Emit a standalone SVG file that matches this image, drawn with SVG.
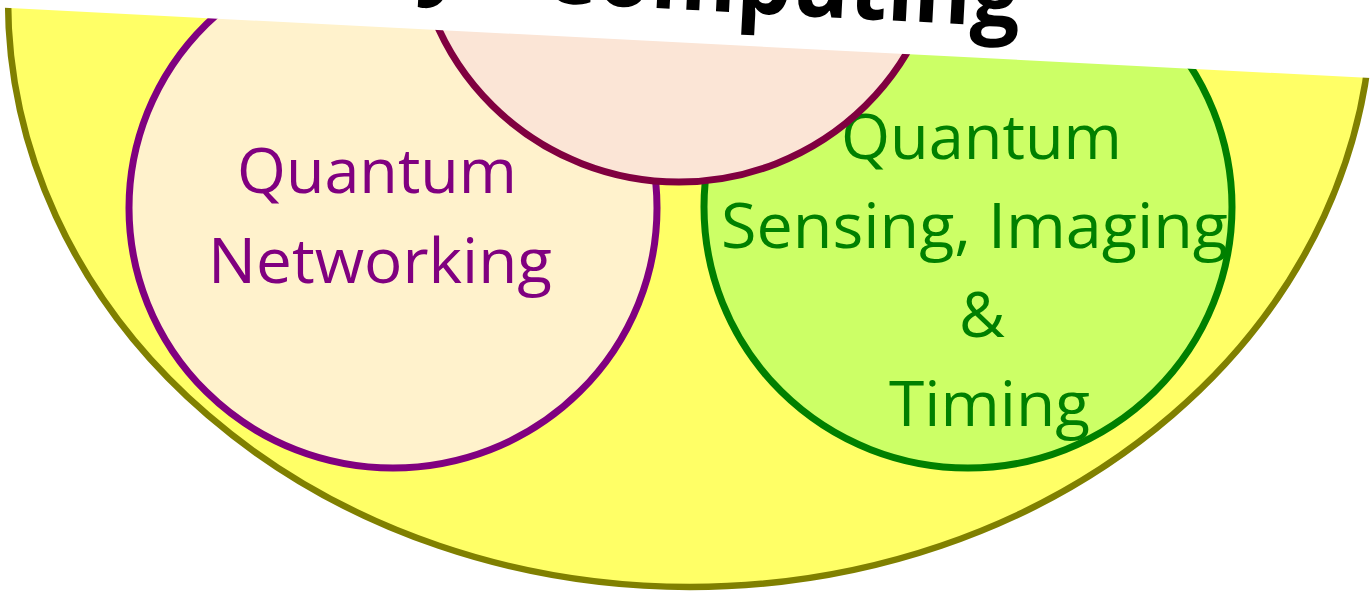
<svg xmlns="http://www.w3.org/2000/svg" width="1371" height="591" viewBox="0 0 1371 591">
<style>
.lbl{font-family:"Open Sans","Noto Sans","Liberation Sans",sans-serif;font-size:63px;text-anchor:middle}
.title{font-family:"Open Sans","Noto Sans","Liberation Sans",sans-serif;font-size:92px;font-weight:700;fill:#000}
.ring{stroke-width:7}
</style>
<rect width="1371" height="591" fill="#fff"/>
<g id="domain">
<ellipse cx="690" cy="0" rx="682" ry="587" fill="#FFFF66" stroke="#808000" stroke-width="6.5"/>
</g>
<g id="networking">
<ellipse class="ring" cx="393" cy="208" rx="264" ry="260" fill="#FFF2CC" stroke="#800080"/>
<text class="lbl" fill="#800080" x="377" y="193" textLength="280" lengthAdjust="spacingAndGlyphs">Quantum</text>
<text class="lbl" fill="#800080" x="380" y="283" textLength="344" lengthAdjust="spacingAndGlyphs">Networking</text>
</g>
<g id="sensing">
<ellipse class="ring" cx="968" cy="207" rx="264" ry="261" fill="#CCFF66" stroke="#008000"/>
<text class="lbl" fill="#008000" x="981.5" y="159" textLength="281" lengthAdjust="spacingAndGlyphs">Quantum</text>
<text class="lbl" fill="#008000" x="974.5" y="248" textLength="507" lengthAdjust="spacingAndGlyphs">Sensing, Imaging</text>
<text class="lbl" fill="#008000" x="982" y="337">&amp;</text>
<text class="lbl" fill="#008000" x="989.5" y="426" textLength="201" lengthAdjust="spacingAndGlyphs">Timing</text>
</g>
<g id="computing">
<ellipse class="ring" cx="679" cy="-79" rx="264" ry="261" fill="#FBE5D6" stroke="#800040"/>
</g>
<g id="band">
<polygon points="0,0 1371,0 1371,78 0,7.5" fill="#fff"/>
</g>
<g id="title" transform="translate(540,2) rotate(3)">
<text class="title" x="-125" y="-10">y</text>
<text class="title" x="0" y="0" textLength="480" lengthAdjust="spacingAndGlyphs">Computing</text>
</g>
<g id="connectors"/>
</svg>
